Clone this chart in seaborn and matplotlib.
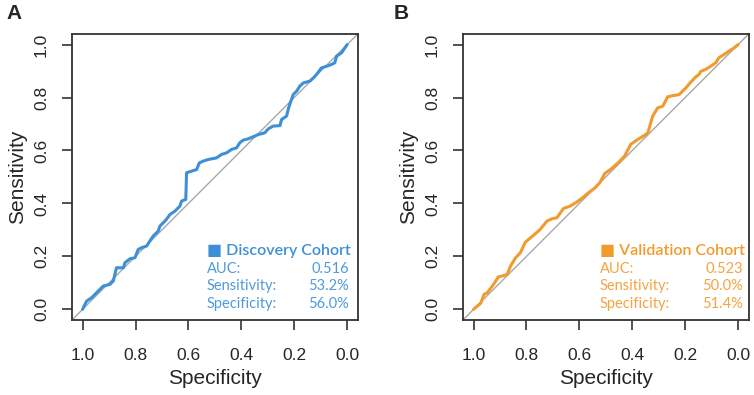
"""
ROC curves for the discovery and validation cohorts.
"""

import matplotlib
matplotlib.use("Agg")
import matplotlib.pyplot as plt
import pandas as pd
import seaborn as sns

sns.set_style("ticks")
plt.rcParams["font.family"] = ["Liberation Sans", "DejaVu Sans"]

# discovery cohort curve (specificity, sensitivity)
disc_spec = [1.0, 0.991, 0.985, 0.966, 0.947, 0.935, 0.922, 0.897, 0.884, 0.878, 0.872, 0.846,
             0.840, 0.821, 0.802, 0.790, 0.777, 0.758, 0.746, 0.733, 0.714, 0.708, 0.695, 0.683,
             0.670, 0.651, 0.632, 0.626, 0.610, 0.607, 0.588, 0.569, 0.559, 0.544, 0.525, 0.494,
             0.475, 0.456, 0.437, 0.418, 0.406, 0.393, 0.374, 0.355, 0.336, 0.311, 0.298, 0.280,
             0.254, 0.248, 0.229, 0.223, 0.217, 0.204, 0.191, 0.179, 0.166, 0.141, 0.128, 0.116,
             0.097, 0.078, 0.059, 0.047, 0.040, 0.021, 0.009, 0.0]
disc_sens = [0.0, 0.019, 0.031, 0.044, 0.063, 0.075, 0.088, 0.094, 0.107, 0.132, 0.157, 0.157,
             0.176, 0.191, 0.195, 0.226, 0.233, 0.239, 0.258, 0.277, 0.296, 0.314, 0.327, 0.340,
             0.358, 0.371, 0.390, 0.409, 0.415, 0.516, 0.522, 0.528, 0.553, 0.560, 0.566, 0.572,
             0.585, 0.591, 0.604, 0.610, 0.629, 0.639, 0.644, 0.652, 0.660, 0.667, 0.682, 0.692,
             0.694, 0.717, 0.730, 0.755, 0.774, 0.811, 0.824, 0.843, 0.855, 0.862, 0.874, 0.887,
             0.912, 0.918, 0.925, 0.931, 0.956, 0.969, 0.987, 1.0]

# validation cohort curve
val_spec = [1.0, 0.985, 0.973, 0.960, 0.948, 0.929, 0.916, 0.906, 0.891, 0.873, 0.860, 0.841,
            0.823, 0.804, 0.785, 0.766, 0.748, 0.723, 0.704, 0.685, 0.660, 0.635, 0.610, 0.591,
            0.566, 0.541, 0.523, 0.504, 0.479, 0.454, 0.429, 0.406, 0.379, 0.354, 0.341, 0.323,
            0.304, 0.285, 0.266, 0.241, 0.223, 0.198, 0.179, 0.160, 0.148, 0.141, 0.123, 0.104,
            0.085, 0.073, 0.054, 0.035, 0.016, 0.0]
val_sens = [0.0, 0.013, 0.023, 0.057, 0.063, 0.088, 0.107, 0.123, 0.126, 0.132, 0.164, 0.195,
            0.214, 0.254, 0.270, 0.286, 0.302, 0.333, 0.342, 0.346, 0.381, 0.390, 0.405, 0.419,
            0.440, 0.459, 0.478, 0.513, 0.531, 0.553, 0.579, 0.623, 0.642, 0.657, 0.667, 0.730,
            0.761, 0.767, 0.803, 0.808, 0.811, 0.836, 0.858, 0.878, 0.887, 0.899, 0.906, 0.918,
            0.931, 0.950, 0.962, 0.975, 0.987, 1.0]

cohorts = ["Discovery Cohort", "Validation Cohort"]
panel_letters = ["A", "B"]
auc = ["0.516", "0.523"]
sensitivity = ["53.2%", "50.0%"]
specificity = ["56.0%", "51.4%"]
colors = ["#3d8fd8", "#f39a2c"]
ticks = [0.0, 0.2, 0.4, 0.6, 0.8, 1.0]

fig = plt.figure(figsize=(7.54, 3.95), dpi=100)
axes = [fig.add_axes([0.0955, 0.19, 0.379, 0.724]),
        fig.add_axes([0.614, 0.19, 0.379, 0.724])]

curves = [(disc_spec, disc_sens), (val_spec, val_sens)]
legend_x = [(0.472, 0.969), (0.479, 0.979)]

for i, ax in enumerate(axes):
    df = pd.DataFrame({"spec": curves[i][0], "sens": curves[i][1]})
    ax.axline((0, 1), slope=-1, color="#a8a8a8", linewidth=1.0, zorder=1)
    sns.lineplot(data=df, x="spec", y="sens", ax=ax, sort=False, estimator=None,
                 color=colors[i], linewidth=2.2, zorder=2)
    ax.set_xlim(1.04, -0.04)
    ax.set_ylim(-0.04, 1.04)
    ax.set_xticks(ticks)
    ax.set_yticks(ticks)
    ax.set_xticklabels([f"{t:.1f}" for t in ticks])
    ax.set_yticklabels([f"{t:.1f}" for t in ticks], rotation=90, va="center")
    ax.tick_params(length=7.5, width=1.2, color="#333333", labelsize=12.5)
    ax.tick_params(axis="x", pad=13)
    ax.tick_params(axis="y", pad=9)
    for s in ax.spines.values():
        s.set_visible(True)
        s.set_linewidth(1.3)
        s.set_color("#333333")
    ax.set_xlabel("Specificity", fontsize=15, labelpad=4)
    ax.set_ylabel("Sensitivity", fontsize=15, labelpad=5)

    lx, rx = legend_x[i]
    ax.text(lx, 0.241, "\u25a0 " + cohorts[i], transform=ax.transAxes, color=colors[i],
            fontsize=11.5, fontweight="semibold", va="center", ha="left",
            family=["Lato", "DejaVu Sans"])
    rows = [("AUC:", auc[i]), ("Sensitivity:", sensitivity[i]), ("Specificity:", specificity[i])]
    for j, (lab, val) in enumerate(rows):
        yy = 0.178 - j * 0.061
        ax.text(lx, yy, lab, transform=ax.transAxes, color=colors[i], fontsize=10.5,
                va="center", ha="left", family=["Lato", "DejaVu Sans"], alpha=0.9)
        ax.text(rx, yy, val, transform=ax.transAxes, color=colors[i], fontsize=10.5,
                va="center", ha="right", family=["Lato", "DejaVu Sans"], alpha=0.9)

fig.text(0.008, 0.965, panel_letters[0], fontsize=15, fontweight="bold", va="center")
fig.text(0.522, 0.965, panel_letters[1], fontsize=15, fontweight="bold", va="center")

plt.savefig("out.png", dpi=100)
